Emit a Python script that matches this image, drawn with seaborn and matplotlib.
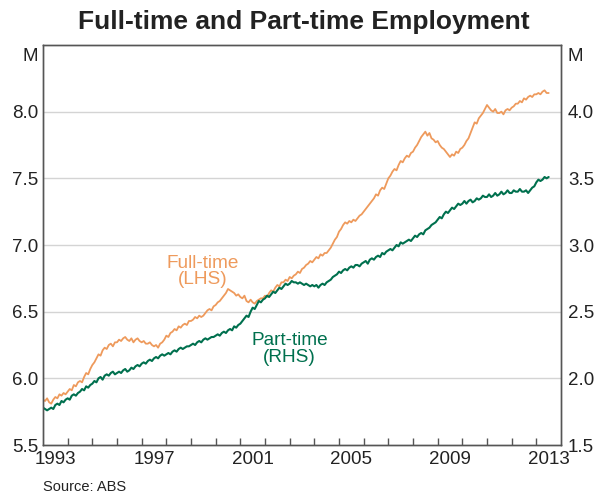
import matplotlib
matplotlib.use("Agg")
import matplotlib.pyplot as plt
import numpy as np
import pandas as pd
import seaborn as sns

# Monthly employment, millions (Jan 1993 - Jul 2013)
full_time = [
    5.84, 5.83, 5.85, 5.82, 5.81, 5.84, 5.86, 5.85, 5.88, 5.87, 5.89, 5.88,
    5.90, 5.92, 5.91, 5.95, 5.94, 5.97, 5.98, 5.97, 6.01, 6.04, 6.03, 6.07,
    6.10, 6.12, 6.15, 6.18, 6.17, 6.21, 6.23, 6.22, 6.25, 6.26, 6.24, 6.27,
    6.27, 6.29, 6.28, 6.30, 6.31, 6.29, 6.28, 6.30, 6.27, 6.29, 6.30, 6.28,
    6.27, 6.28, 6.26, 6.26, 6.27, 6.25, 6.24, 6.25, 6.23, 6.26, 6.27, 6.29,
    6.32, 6.31, 6.34, 6.35, 6.37, 6.36, 6.39, 6.38, 6.40, 6.41, 6.40, 6.43,
    6.43, 6.44, 6.46, 6.45, 6.47, 6.46, 6.47, 6.49, 6.51, 6.52, 6.51, 6.54,
    6.55, 6.57, 6.58, 6.60, 6.62, 6.64, 6.67, 6.66, 6.65, 6.64, 6.62, 6.63,
    6.61, 6.60, 6.62, 6.58, 6.57, 6.59, 6.57, 6.56, 6.58, 6.59, 6.60, 6.60,
    6.62, 6.61, 6.64, 6.66, 6.65, 6.68, 6.70, 6.69, 6.72, 6.72, 6.74, 6.73,
    6.76, 6.75, 6.77, 6.78, 6.80, 6.79, 6.82, 6.83, 6.85, 6.86, 6.88, 6.87,
    6.89, 6.91, 6.90, 6.93, 6.92, 6.94, 6.94, 6.96, 6.98, 7.01, 7.04, 7.06,
    7.10, 7.12, 7.15, 7.17, 7.16, 7.18, 7.17, 7.19, 7.18, 7.20, 7.22, 7.23,
    7.25, 7.27, 7.29, 7.31, 7.33, 7.35, 7.38, 7.37, 7.41, 7.43, 7.42, 7.46,
    7.50, 7.52, 7.55, 7.57, 7.56, 7.60, 7.63, 7.62, 7.65, 7.67, 7.66, 7.69,
    7.70, 7.73, 7.75, 7.78, 7.81, 7.83, 7.85, 7.82, 7.84, 7.80, 7.79, 7.77,
    7.78, 7.75, 7.73, 7.72, 7.70, 7.68, 7.66, 7.68, 7.67, 7.70, 7.69, 7.72,
    7.73, 7.75, 7.78, 7.80, 7.84, 7.88, 7.92, 7.91, 7.95, 7.97, 7.99, 8.02,
    8.05, 8.03, 8.01, 8.00, 8.02, 7.99, 7.99, 8.00, 7.98, 8.01, 8.02, 8.01,
    8.03, 8.04, 8.06, 8.06, 8.08, 8.07, 8.10, 8.09, 8.11, 8.12, 8.11, 8.13,
    8.13, 8.14, 8.13, 8.15, 8.16, 8.14, 8.14,
]
part_time = [
    1.78, 1.77, 1.76, 1.77, 1.78, 1.77, 1.80, 1.81, 1.80, 1.83, 1.82, 1.84,
    1.85, 1.84, 1.87, 1.88, 1.87, 1.89, 1.90, 1.92, 1.91, 1.94, 1.93, 1.95,
    1.96, 1.98, 1.97, 2.00, 2.01, 1.99, 2.02, 2.03, 2.02, 2.04, 2.05, 2.03,
    2.04, 2.05, 2.04, 2.06, 2.07, 2.05, 2.06, 2.08, 2.07, 2.09, 2.10, 2.09,
    2.11, 2.12, 2.11, 2.13, 2.14, 2.13, 2.15, 2.16, 2.15, 2.17, 2.18, 2.17,
    2.18, 2.19, 2.18, 2.20, 2.21, 2.20, 2.22, 2.23, 2.22, 2.23, 2.24, 2.24,
    2.25, 2.26, 2.25, 2.27, 2.28, 2.27, 2.29, 2.30, 2.29, 2.30, 2.31, 2.31,
    2.32, 2.33, 2.32, 2.34, 2.35, 2.34, 2.36, 2.37, 2.36, 2.39, 2.38, 2.40,
    2.41, 2.43, 2.45, 2.47, 2.46, 2.50, 2.53, 2.52, 2.55, 2.58, 2.57, 2.59,
    2.60, 2.62, 2.61, 2.63, 2.65, 2.64, 2.66, 2.68, 2.67, 2.69, 2.71, 2.70,
    2.71, 2.73, 2.72, 2.72, 2.71, 2.72, 2.71, 2.70, 2.71, 2.70, 2.69, 2.70,
    2.69, 2.70, 2.68, 2.70, 2.71, 2.70, 2.72, 2.73, 2.74, 2.76, 2.77, 2.78,
    2.80, 2.79, 2.81, 2.82, 2.81, 2.83, 2.84, 2.83, 2.85, 2.85, 2.84, 2.86,
    2.87, 2.88, 2.86, 2.89, 2.90, 2.89, 2.91, 2.92, 2.91, 2.94, 2.93, 2.95,
    2.96, 2.97, 2.96, 2.98, 3.00, 2.99, 3.02, 3.01, 3.02, 3.03, 3.04, 3.03,
    3.05, 3.07, 3.06, 3.08, 3.09, 3.08, 3.11, 3.12, 3.13, 3.15, 3.16, 3.17,
    3.19, 3.21, 3.20, 3.23, 3.25, 3.24, 3.26, 3.28, 3.27, 3.29, 3.31, 3.30,
    3.31, 3.33, 3.31, 3.33, 3.34, 3.32, 3.33, 3.35, 3.34, 3.35, 3.37, 3.36,
    3.36, 3.38, 3.36, 3.37, 3.39, 3.37, 3.38, 3.40, 3.38, 3.39, 3.41, 3.39,
    3.39, 3.41, 3.40, 3.40, 3.42, 3.40, 3.40, 3.41, 3.39, 3.41, 3.43, 3.44,
    3.47, 3.49, 3.48, 3.49, 3.51, 3.50, 3.51,
]
left_ticks = [5.5, 6.0, 6.5, 7.0, 7.5, 8.0]
right_ticks = [1.5, 2.0, 2.5, 3.0, 3.5, 4.0]
year_labels = [1993, 1997, 2001, 2005, 2009, 2013]

dates = pd.date_range("1993-01-01", periods=len(full_time), freq="MS")
df = pd.DataFrame({
    "year": dates.year + (dates.month - 1) / 12.0,
    "full_time": full_time,
    "part_time": part_time,
})

sns.set_style("white")
plt.rcParams["font.family"] = ["Liberation Sans", "DejaVu Sans"]

orange = "#EE9A5C"
green = "#00704E"
spine_col = "#555555"
text_col = "#222222"

fig = plt.figure(figsize=(6.07, 4.95), dpi=100)
ax = fig.add_axes([43 / 607, 1 - 445 / 495, (561 - 43) / 607, (445 - 45) / 495])
ax2 = ax.twinx()

sns.lineplot(data=df, x="year", y="full_time", ax=ax, color=orange, lw=1.3)
sns.lineplot(data=df, x="year", y="part_time", ax=ax2, color=green, lw=1.5)

ax.set_xlim(1993, 2014)
ax.set_ylim(5.5, 8.5)
ax2.set_ylim(1.5, 4.5)
ax.set_xlabel("")
ax.set_ylabel("")
ax2.set_ylabel("")

# horizontal grid lines (drawn on the left axis)
for v in left_ticks[1:]:
    ax.axhline(v, color="#D4D4D4", lw=1.0, zorder=0)

ax.set_yticks(left_ticks)
ax.set_yticklabels([f"{v:.1f}" for v in left_ticks])
ax2.set_yticks(right_ticks)
ax2.set_yticklabels([f"{v:.1f}" for v in right_ticks])
ax.tick_params(axis="y", length=0, pad=3.6, labelsize=13.5, labelcolor=text_col)
ax2.tick_params(axis="y", length=0, pad=5.0, labelsize=13.5, labelcolor=text_col)

# year boundaries as inward ticks, labels centred within each year
ax.set_xticks(np.arange(1994, 2014))
ax.set_xticklabels([])
ax.set_xticks([y + 0.5 for y in year_labels], minor=True)
ax.set_xticklabels([str(y) for y in year_labels], minor=True)
ax.tick_params(axis="x", which="major", direction="in", length=5, width=1,
               color=spine_col, bottom=True)
ax.tick_params(axis="x", which="minor", length=0, pad=4.6, labelsize=13.5,
               labelcolor=text_col, bottom=True)

for a in (ax, ax2):
    for s in a.spines.values():
        s.set_visible(True)
        s.set_color(spine_col)
        s.set_linewidth(1.0)

# unit labels at the top of each axis
ax.annotate("M", xy=(0, 1), xycoords="axes fraction", xytext=(-3.6, -2),
            textcoords="offset points", ha="right", va="top", fontsize=13.5,
            color=text_col)
ax.annotate("M", xy=(1, 1), xycoords="axes fraction", xytext=(5.0, -2),
            textcoords="offset points", ha="left", va="top", fontsize=13.5,
            color=text_col)

# series labels
ax.text(1999.47, 6.80, "Full-time\n(LHS)", ha="center", va="center",
        fontsize=13.7, color=orange, linespacing=0.95)
ax2.text(2003.0, 2.22, "Part-time\n(RHS)", ha="center", va="center",
         fontsize=13.7, color=green, linespacing=0.95)

fig.text(0.5, 1 - 22 / 495, "Full-time and Part-time Employment", ha="center",
         va="center", fontsize=19, fontweight="bold", color=text_col)
fig.text(43 / 607, 1 - 487 / 495, "Source: ABS", ha="left", va="center",
         fontsize=10.5, color=text_col)

fig.savefig("out.png", dpi=100)
